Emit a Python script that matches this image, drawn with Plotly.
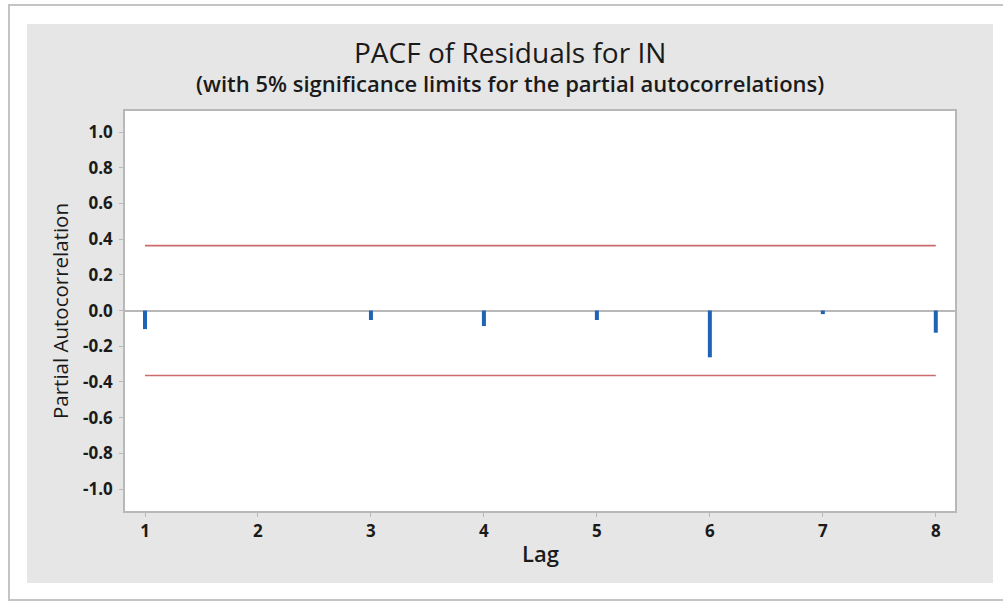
import plotly.graph_objects as go

lags = [1, 2, 3, 4, 5, 6, 7, 8]
pacf = [-0.104, 0.0, -0.053, -0.087, -0.053, -0.262, -0.020, -0.124]
sig_limit = 0.364
y_ticks = [-1.0, -0.8, -0.6, -0.4, -0.2, 0.0, 0.2, 0.4, 0.6, 0.8, 1.0]
y_tick_labels = ["-1.0", "-0.8", "-0.6", "-0.4", "-0.2", "0.0", "0.2", "0.4", "0.6", "0.8", "1.0"]
title_main = "PACF of Residuals for IN"
title_sub = "(with 5% significance limits for the partial autocorrelations)"
x_title = "Lag"
y_title = "Partial Autocorrelation"

W, H = 1003, 603
L, R, T, B = 125, 955, 111, 511
pw, ph = R - L, B - T


def px(x):
    return (x - L) / pw


def py(y):
    return (B - y) / ph


FONT = "Open Sans"

# stems
sx, sy = [], []
for lag, v in zip(lags, pacf):
    sx += [lag, lag, None]
    sy += [0, v, None]

fig = go.Figure()
fig.add_trace(go.Scatter(x=[lags[0], lags[-1]], y=[sig_limit, sig_limit], mode="lines",
                         line=dict(color="#cc6b6b", width=1.6), hoverinfo="skip", showlegend=False))
fig.add_trace(go.Scatter(x=[lags[0], lags[-1]], y=[-sig_limit, -sig_limit], mode="lines",
                         line=dict(color="#cc6b6b", width=1.6), hoverinfo="skip", showlegend=False))
fig.add_trace(go.Scatter(x=sx, y=sy, mode="lines", line=dict(color="#1f63b5", width=4),
                         showlegend=False))

shapes = [
    # outer window frame
    dict(type="rect", xref="paper", yref="paper", x0=px(9), x1=px(1012), y0=py(600), y1=py(5),
         line=dict(color="#c4c4c4", width=2), fillcolor="white", layer="below"),
    # grey panel
    dict(type="rect", xref="paper", yref="paper", x0=px(27), x1=px(993), y0=py(583), y1=py(24),
         line=dict(width=0), fillcolor="#e6e6e6", layer="below"),
    # white plot area
    dict(type="rect", xref="paper", yref="paper", x0=0, x1=1, y0=0, y1=1,
         line=dict(width=0), fillcolor="white", layer="below"),
]

annotations = [
    dict(text=title_main, xref="paper", yref="paper", x=px(510), y=py(52), showarrow=False,
         xanchor="center", yanchor="middle", font=dict(family=FONT, size=28, color="#1a1a1a")),
    dict(text=title_sub, xref="paper", yref="paper", x=px(510), y=py(83), showarrow=False,
         xanchor="center", yanchor="middle", font=dict(family=FONT, size=22, color="#1a1a1a", weight=600)),
    dict(text=x_title, xref="paper", yref="paper", x=px(540), y=py(553), showarrow=False,
         xanchor="center", yanchor="middle", font=dict(family=FONT, size=22, color="#1a1a1a", weight=600)),
    dict(text=y_title, xref="paper", yref="paper", x=px(60), y=py(311), showarrow=False, textangle=-90,
         xanchor="center", yanchor="middle", font=dict(family=FONT, size=20.5, color="#1a1a1a")),
]

fig.update_layout(
    width=W, height=H,
    margin=dict(l=L, r=W - R, t=T, b=H - B, pad=0),
    paper_bgcolor="white", plot_bgcolor="white",
    shapes=shapes, annotations=annotations,
    font=dict(family=FONT, color="#1a1a1a"),
    xaxis=dict(range=[0.823, 8.17], tickvals=lags, ticktext=[str(l) for l in lags],
               showgrid=False, zeroline=False, showline=True, mirror=True,
               linecolor="#b8b8b8", linewidth=1.5, ticks="outside", ticklen=4,
               tickcolor="#b8b8b8", tickfont=dict(family=FONT, size=17, weight="bold")),
    yaxis=dict(range=[-1.123, 1.118], tickvals=y_ticks, ticktext=y_tick_labels,
               showgrid=False, zeroline=True, zerolinecolor="#b8b8b8", zerolinewidth=1.5,
               showline=True, mirror=True, linecolor="#b8b8b8", linewidth=1.5,
               ticks="outside", ticklen=4, tickcolor="#b8b8b8", ticklabelstandoff=3,
               tickfont=dict(family=FONT, size=17, weight="bold")),
)

fig.write_html("out.html")
